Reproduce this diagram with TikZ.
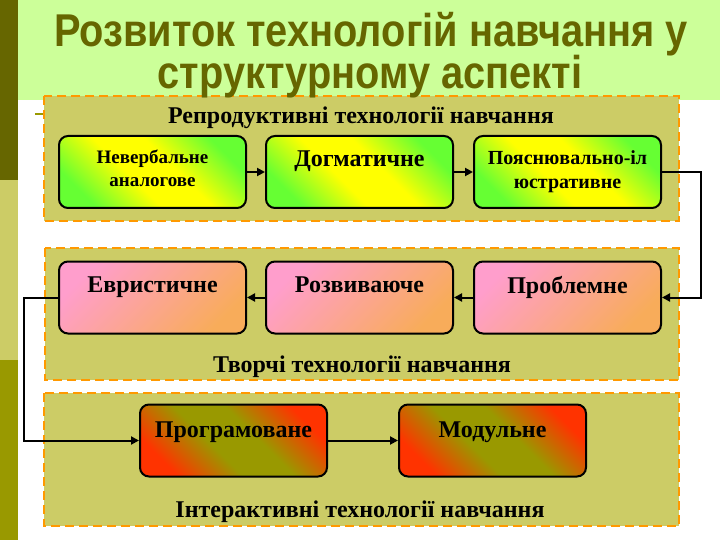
\documentclass[tikz,border=0pt]{standalone}
\usepackage{fontspec}
\setmainfont{Liberation Serif}
\newfontfamily\titlefont[FakeStretch=0.865]{Liberation Sans}
\newfontfamily\boxfont{Liberation Serif}
\usetikzlibrary{arrows.meta}
\definecolor{olivedark}{HTML}{666600}
\definecolor{olivelight}{HTML}{CCCC66}
\definecolor{olivemid}{HTML}{999900}
\definecolor{titlebg}{HTML}{CCFF99}
\definecolor{dashorange}{HTML}{FF9900}
\definecolor{gfill}{HTML}{CCCC66}
\definecolor{greenA}{HTML}{66FF33}
\definecolor{yellowA}{HTML}{FFFF00}
\definecolor{pinkA}{HTML}{FF9ECC}
\definecolor{orangeA}{HTML}{F8AC5A}
\definecolor{redA}{HTML}{FF3300}
\definecolor{oliveA}{HTML}{999900}
\pgfdeclareverticalshading{gygshade}{100bp}{color(0bp)=(greenA); color(25bp)=(greenA); color(43bp)=(yellowA); color(57bp)=(yellowA); color(75bp)=(greenA); color(100bp)=(greenA)}
\pgfdeclareverticalshading{rorshade}{100bp}{color(0bp)=(redA); color(25bp)=(redA); color(43bp)=(oliveA); color(57bp)=(oliveA); color(75bp)=(redA); color(100bp)=(redA)}
\newcommand{\bt}[2]{\parbox[c][72pt][t]{187pt}{\centering\vspace*{#1}#2}}
\begin{document}
\begin{tikzpicture}[x=1pt,y=-1pt,
  grp/.style={fill=gfill, draw=dashorange, line width=2.5pt, dash pattern=on 9pt off 5pt},
  ibox/.style={draw=black, line width=2pt, rounded corners=9pt, minimum width=187pt, minimum height=72pt, inner sep=0pt, font=\boxfont\bfseries},
  greenbox/.style={ibox, shade, shading=gygshade, shading angle=-45},
  pinkbox/.style={ibox, top color=pinkA, bottom color=orangeA, shading angle=45},
  redbox/.style={ibox, shade, shading=rorshade, shading angle=-45},
  conn/.style={line width=2pt, -{Triangle[length=8pt,width=8pt]}},
  glabel/.style={anchor=base, inner sep=0pt, font=\boxfont\bfseries\fontsize{24}{28}\selectfont},
  title/.style={anchor=base, inner sep=0pt, text=olivedark, font=\titlefont\bfseries\fontsize{46}{52}\selectfont}]
\useasboundingbox (0,0) rectangle (720,540);
\fill[white] (0,0) rectangle (720,540);
% side bar
\fill[olivedark] (0,0) rectangle (18,180);
\fill[olivelight] (0,180) rectangle (18,360);
\fill[olivemid] (0,360) rectangle (18,540);
% title background
\fill[titlebg] (18,0) rectangle (720,100);
\draw[olivemid, line width=1.5pt] (35,114) -- (45,114);
% groups
\draw[grp] (44,96) rectangle (679,221);
\draw[grp] (45,248) rectangle (679,380);
\draw[grp] (44,393) rectangle (679,526);
% title
\node[title] (t1) at (371,47) {Розвиток технологій навчання у};
\node[title] (t2) at (370,89) {структурному аспекті};
\node[glabel] (g1) at (361,124) {Репродуктивні технології навчання};
\node[glabel] (g2) at (362,372) {Творчі технології навчання};
\node[glabel] (g3) at (360,517) {Інтерактивні технології навчання};
% row 1
\node[greenbox] (a1) at (152.5,172) {\bt{14pt}{\fontsize{19}{22.5}\selectfont Невербальне\\аналогове}};
\node[greenbox] (a2) at (359.5,172) {\bt{15pt}{\fontsize{24}{28}\selectfont Догматичне}};
\node[greenbox] (a3) at (567.5,172) {\bt{15pt}{\fontsize{20}{24}\selectfont Пояснювально-іл\\юстративне}};
% row 2
\node[pinkbox] (b1) at (152.5,297.5) {\bt{15pt}{\fontsize{24}{28}\selectfont Евристичне}};
\node[pinkbox] (b2) at (359.5,297.5) {\bt{15pt}{\fontsize{24}{28}\selectfont Розвиваюче}};
\node[pinkbox] (b3) at (567.5,297.5) {\bt{15pt}{\fontsize{24}{28}\selectfont Проблемне}};
% row 3
\node[redbox] (c1) at (233.5,440.5) {\bt{17pt}{\fontsize{24}{28}\selectfont Програмоване}};
\node[redbox] (c2) at (492.5,440.5) {\bt{17pt}{\fontsize{24}{28}\selectfont Модульне}};
% connectors
\draw[conn] (a1) -- (a2);
\draw[conn] (a2) -- (a3);
\draw[conn] (a3.east) -- ++(39,0) |- (b3.east);
\draw[conn] (b3) -- (b2);
\draw[conn] (b2) -- (b1);
\draw[conn] (b1.west) -- ++(-34,0) |- (c1.west);
\draw[conn] (c1) -- (c2);
\end{tikzpicture}
\end{document}
